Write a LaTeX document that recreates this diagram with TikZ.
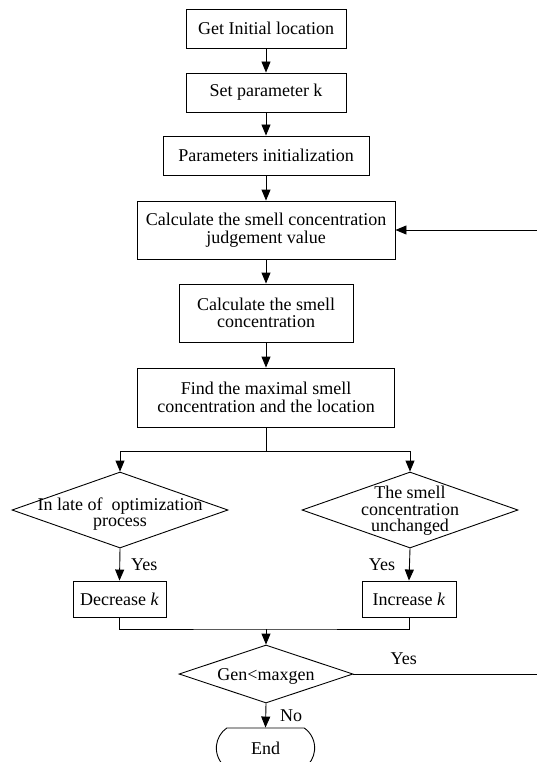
\documentclass[tikz,border=0pt]{standalone}
\usepackage{fontspec}
\setmainfont{Liberation Serif}
\usetikzlibrary{arrows.meta}
\usetikzlibrary{shapes.geometric,shapes.misc}

\tikzset{
  stepbox/.style={draw, line width=.9pt, inner sep=0pt, align=center, font=\fontsize{18}{17.5}\selectfont},
  decision/.style={draw, diamond, line width=.9pt, inner sep=0pt},
  dtext/.style={align=center, inner sep=0pt, font=\fontsize{18}{16.5}\selectfont},
  lbl/.style={inner sep=1pt, font=\fontsize{18}{18}\selectfont},
  flow/.style={line width=.9pt, -{Triangle[length=11pt,width=9pt]}},
}

\begin{document}
\begin{tikzpicture}[x=1pt, y=-1pt]
\useasboundingbox (0,0) rectangle (536,762);
% main chain
\node[stepbox, minimum width=160pt, minimum height=39pt] (init) at (266,28.5) {Get Initial location};
\node[stepbox, minimum width=160pt, minimum height=39pt] (setk) at (266,92.5) {Set parameter k};
\node[stepbox, minimum width=206pt, minimum height=39pt] (params) at (266,155.5) {Parameters initialization};
\node[stepbox, minimum width=258pt, minimum height=58pt] (judge) at (266,230) {Calculate the smell concentration\\judgement value};
\node[stepbox, minimum width=174pt, minimum height=58pt] (conc) at (266,313) {Calculate the smell\\concentration};
\node[stepbox, minimum width=257pt, minimum height=59pt] (find) at (266,397.5) {Find the maximal smell\\concentration and the location};
\foreach \a/\b in {init/setk, setk/params, params/judge, judge/conc, conc/find}
  \draw[flow] (\a) -- (\b);
% the two tests
\node[decision, minimum width=216pt, minimum height=76pt] (late) at (120,510) {};
\node[dtext] (latetxt) at (120,514) {In late of~ optimization\\process};
\node[decision, minimum width=216pt, minimum height=76pt] (same) at (410,510) {};
\node[dtext] (sametxt) at (410,511) {The smell\\concentration\\unchanged};
\coordinate (fork) at (266,451);
\draw[line width=.9pt] (find.south) -- (fork);
\draw[flow] (fork) -| (late.north);
\draw[flow] (fork) -| (same.north);
\node[stepbox, minimum width=93pt, minimum height=36pt] (dec) at (119.5,599) {Decrease \textit{k}};
\node[stepbox, minimum width=94pt, minimum height=36pt] (inc) at (409,599) {Increase \textit{k}};
\draw[flow] (late.south) -- node[lbl, right=10pt] (yesl) {Yes} (dec.north);
\draw[flow] (same.south) -- node[lbl, left=13pt] (yesr) {Yes} (inc.north);
% join and loop test
\coordinate (join) at (266,629);
\draw[line width=.9pt] (dec.south) |- (join) -| (inc.south);
\node[decision, minimum width=174pt, minimum height=58pt] (gen) at (266,674) {};
\node[dtext] (gentxt) at (266,676) {Gen<maxgen};
\draw[flow] (join) -- (gen.north);
\node[draw, rounded rectangle, rounded rectangle arc length=110, line width=.9pt, minimum width=105pt, minimum height=40pt, font=\fontsize{18}{18}\selectfont] (stop) at (265.5,748) {End};
\draw[flow] (gen.south) -- node[lbl, right=13pt] (no) {No} (stop.north);
\coordinate (back) at (540,674);
\draw[flow] (gen.east) -- node[lbl, above=8pt, pos=.27] (yesg) {Yes} (back) |- (judge.east);
\end{tikzpicture}
\end{document}
